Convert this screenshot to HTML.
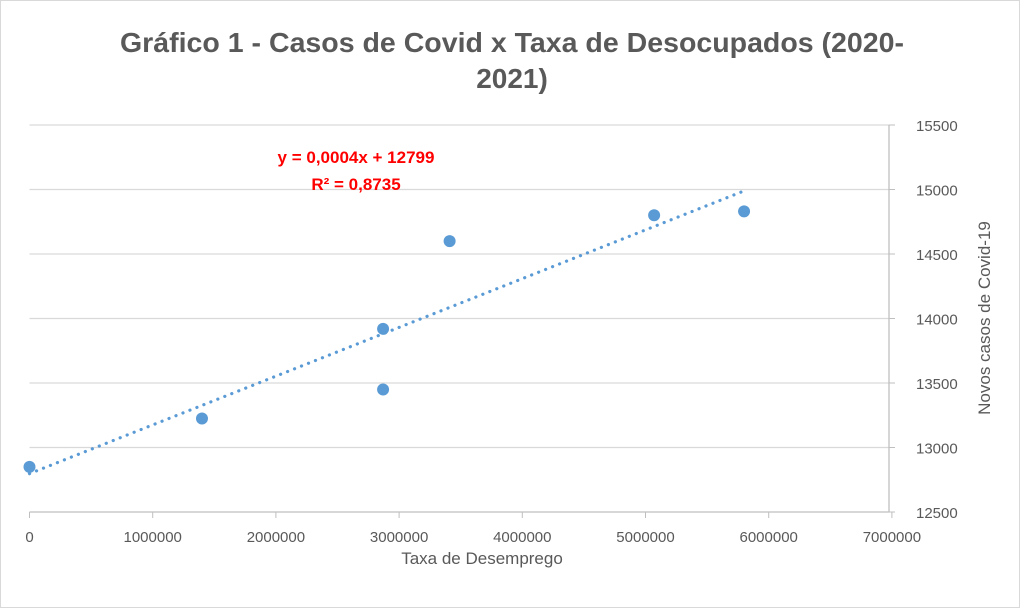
<!DOCTYPE html>
<html><head><meta charset="utf-8"><style>
html,body{margin:0;padding:0;background:#fff}
svg{display:block;font-family:"Liberation Sans",Calibri,sans-serif}
</style></head><body>
<svg id="c" width="1020" height="608">
<rect x="0.5" y="0.5" width="1019" height="607" fill="#fff" stroke="#d9d9d9"/>
<text x="512" y="52" text-anchor="middle" font-size="28" font-weight="bold" fill="#595959" textLength="784" lengthAdjust="spacingAndGlyphs">Gráfico 1 - Casos de Covid x Taxa de Desocupados (2020-</text>
<text x="512" y="88" text-anchor="middle" font-size="28" font-weight="bold" fill="#595959">2021)</text>
<g id="grid"></g><g id="axes"></g><g id="trend"></g><g id="pts"></g>
<text x="356" y="163" text-anchor="middle" font-size="17" font-weight="bold" fill="#ff0000">y = 0,0004x + 12799</text>
<text x="356" y="190" text-anchor="middle" font-size="17" font-weight="bold" fill="#ff0000">R² = 0,8735</text>
<text x="482" y="564" text-anchor="middle" font-size="17" fill="#595959">Taxa de Desemprego</text>
<text transform="translate(990,318) rotate(-90)" text-anchor="middle" font-size="17" fill="#595959">Novos casos de Covid-19</text>
</svg>
<script>
const xVals=[0,1400000,2870000,2870000,3410000,5070000,5800000];
const yVals=[12850,13225,13450,13920,14600,14800,14830];
const xTicks=[0,1000000,2000000,3000000,4000000,5000000,6000000,7000000];
const yTicks=[12500,13000,13500,14000,14500,15000,15500];
const NS="http://www.w3.org/2000/svg";
const X=v=>29.5+v/1000000*123.2;
const Y=v=>512-(v-12500)/3000*387;
function mk(t,a,p){const e=document.createElementNS(NS,t);for(const k in a)e.setAttribute(k,a[k]);document.getElementById(p).appendChild(e);return e;}
yTicks.forEach(t=>{
 const l=mk('line',{x1:29.5,x2:889,y1:Y(t),y2:Y(t),stroke:t===12500?'#bfbfbf':'#d9d9d9','stroke-width':1.3},'grid');
 
 
 const tk=mk('line',{x1:889,x2:895,y1:Y(t),y2:Y(t),stroke:'#bfbfbf'},'axes');
 
 
 const tx=mk('text',{x:916,y:Y(t)+6,'font-size':15,fill:'#595959'},'axes');
 tx.textContent=t;
 
 
});
const ya=mk('line',{x1:889,x2:889,y1:Y(15500),y2:Y(12500),stroke:'#bfbfbf','stroke-width':1.3},'axes');


xTicks.forEach(t=>{
 const tk=mk('line',{x1:X(t),x2:X(t),y1:512,y2:518,stroke:'#bfbfbf'},'axes');
 
 
 const tx=mk('text',{x:X(t),y:542,'font-size':15,fill:'#595959','text-anchor':'middle'},'axes');
 tx.textContent=t;
 
 
});
const n=xVals.length,mx=xVals.reduce((a,b)=>a+b)/n,my=yVals.reduce((a,b)=>a+b)/n;
let sxy=0,sxx=0;for(let i=0;i<n;i++){sxy+=(xVals[i]-mx)*(yVals[i]-my);sxx+=(xVals[i]-mx)**2;}
const b=sxy/sxx,a=my-b*mx;const xmin=Math.min(...xVals),xmax=Math.max(...xVals);
const tl=mk('line',{x1:X(xmin),y1:Y(a+b*xmin),x2:X(xmax),y2:Y(a+b*xmax),stroke:'#5b9bd5','stroke-width':3.2,'stroke-dasharray':'0.1 7.4','stroke-linecap':'round'},'trend');


for(let i=0;i<n;i++){
 const c=mk('circle',{cx:X(xVals[i]),cy:Y(yVals[i]),r:6,fill:'#5b9bd5'},'pts');
 
 
}
</script>
</body></html>
